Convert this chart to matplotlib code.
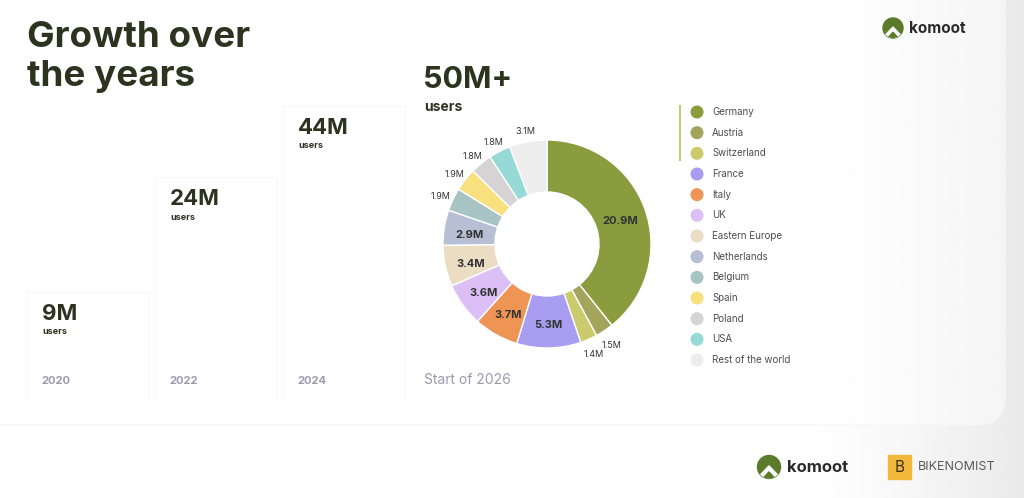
import numpy as np
import matplotlib.pyplot as plt
from matplotlib.patches import Circle, Polygon, FancyBboxPatch, Rectangle

plt.rcParams['font.family'] = ['Inter', 'DejaVu Sans']

# growth over the years
years = ['2020', '2022', '2024']
users_m = [9, 24, 44]
user_labels = ['9M', '24M', '44M']

# start of 2026, users by region (millions)
regions = ['Germany', 'Austria', 'Switzerland', 'France', 'Italy', 'UK',
           'Eastern Europe', 'Netherlands', 'Belgium', 'Spain', 'Poland',
           'USA', 'Rest of the world']
region_users = [20.9, 1.5, 1.4, 5.3, 3.7, 3.6, 3.4, 2.9, 1.9, 1.9, 1.8, 1.8, 3.1]
region_colors = ['#8b9c3f', '#a4a45c', '#cbcb6e', '#a99df2', '#ee9455', '#dbbff5',
                 '#eaddc4', '#b7bfd5', '#a7c3c3', '#f9e07f', '#d5d3d3', '#96d9d7',
                 '#ededed']
outside_labels = ['Austria', 'Switzerland', 'Belgium', 'Spain', 'Poland', 'USA',
                  'Rest of the world']

dark = '#2e3320'
muted = '#9d9aae'

W, H = 1024, 498
fig = plt.figure(figsize=(W / 100, H / 100), dpi=100)


def px_axes(left, top, width, height):
    return fig.add_axes([left / W, 1 - (top + height) / H, width / W, height / H])


# background, in pixel coordinates
bg = px_axes(0, 0, W, H)
xs = np.linspace(0, W, 600)
ramp = np.clip((xs - 800) / (W - 800), 0, 1)
bg.imshow(np.tile(1 - 0.085 * ramp ** 1.3, (2, 1)), cmap='gray', vmin=0, vmax=1,
          extent=(0, W, H, 0), aspect='auto', zorder=0)
card = FancyBboxPatch((-40, -40), 1045, 465, boxstyle='round,pad=0,rounding_size=28',
                      facecolor='none', edgecolor='#f6f6f6', lw=0.8, zorder=1)
bg.add_patch(card)
ramp2 = np.clip((xs - 830) / (1005 - 830), 0, 1)
im = bg.imshow(np.tile(1 - 0.04 * ramp2, (2, 1)), cmap='gray', vmin=0, vmax=1,
               extent=(0, W, H, 0), aspect='auto', zorder=0.5)
im.set_clip_path(card)
bg.set_xlim(0, W)
bg.set_ylim(H, 0)
bg.axis('off')

# title
bg.text(27, 21, 'Growth over', fontsize=26.5, fontweight='bold', color=dark, va='top')
bg.text(27, 60, 'the years', fontsize=26.5, fontweight='bold', color=dark, va='top')

# growth cards (log scale)
base = 3.58
bars_ax = px_axes(24, 100, 384, 300)
bars_ax.set_yscale('log')
x = np.arange(len(years))
bars_ax.bar(x, np.array(users_m) - base, bottom=base, width=0.95,
            color='#ffffff', edgecolor='#f7f7f7', linewidth=0.8)
bars_ax.set_xlim(-0.5, len(years) - 0.5)
bars_ax.set_ylim(base, 46.3)
bars_ax.axis('off')
for i, (yr, v, lab) in enumerate(zip(years, users_m, user_labels)):
    left = i - 0.475
    bars_ax.annotate(lab, (left, v), xytext=(15, -12), textcoords='offset pixels',
                     ha='left', va='top', fontsize=16, fontweight='bold', color=dark)
    bars_ax.annotate('users', (left, v), xytext=(15, -40), textcoords='offset pixels',
                     ha='left', va='center', fontsize=6.5, fontweight='bold', color=dark)
    bars_ax.annotate(yr, (left, base), xytext=(14, 19), textcoords='offset pixels',
                     ha='left', va='center', fontsize=8, fontweight='bold', color=muted)

# donut
bg.text(423, 66, '50M+', fontsize=22, fontweight='bold', color=dark, va='top')
bg.text(424, 107, 'users', fontsize=10, fontweight='bold', color=dark, va='center')
bg.text(424, 380, 'Start of 2026', fontsize=10, color=muted, va='center')

pie_ax = px_axes(443, 140, 208, 208)
wedges, _ = pie_ax.pie(region_users, colors=region_colors, startangle=90,
                       counterclock=False, radius=1,
                       wedgeprops=dict(width=0.5, edgecolor='white', linewidth=1))
pie_ax.set_xlim(-1, 1)
pie_ax.set_ylim(-1, 1)
pie_ax.set_aspect('equal')
total = sum(region_users)
cum = 0
for name, v in zip(regions, region_users):
    mid = (cum + v / 2) / total * 2 * np.pi
    cum += v
    if name in outside_labels:
        r, fs, fw = 1.13, 6.5, 'normal'
    else:
        r, fs, fw = 0.75, 8, 'bold'
    pie_ax.text(r * np.sin(mid), r * np.cos(mid) - 0.03, f'{v}M', ha='center',
                va='center', fontsize=fs, fontweight=fw, color='#333333')

# legend
ly = 112 + 20.67 * np.arange(len(regions))
bg.plot([680, 680], [106, 160], color='#c9c977', lw=1.5, zorder=2)
bg.scatter(np.full(len(regions), 697), ly, s=88, c=region_colors, zorder=3, linewidths=0)
for name, y in zip(regions, ly):
    bg.text(712, y, name, fontsize=7, color='#4d4d4d', va='center')


# logos
def komoot_logo(cx, cy, r, tx, fs):
    circ = Circle((cx, cy), r, color='#5b7a2a', zorder=4)
    bg.add_patch(circ)
    outer = Polygon([(cx, cy - 0.1 * r), (cx - 1.0 * r, cy + 0.95 * r),
                     (cx + 1.0 * r, cy + 0.95 * r)], color='white', zorder=5)
    inner = Polygon([(cx, cy + 0.42 * r), (cx - 0.7 * r, cy + 1.2 * r),
                     (cx + 0.7 * r, cy + 1.2 * r)], color='#5b7a2a', zorder=6)
    for p in (outer, inner):
        bg.add_patch(p)
        p.set_clip_path(circ)
    bg.text(tx, cy, 'komoot', fontsize=fs, fontweight='bold', color='#2a2a2a',
            va='center', zorder=5)


komoot_logo(893, 28, 10, 909, 11)
komoot_logo(769, 467, 11.5, 787, 12)
bg.add_patch(Rectangle((888, 455), 23, 24, color='#f1b83a', zorder=4))
bg.text(899.5, 467, 'B', fontsize=11, color='#3a3020', ha='center', va='center', zorder=5)
bg.text(918, 467, 'BIKENOMIST', fontsize=9, color='#5a5a5a', va='center', zorder=5)

fig.savefig('out.png', dpi=100)
